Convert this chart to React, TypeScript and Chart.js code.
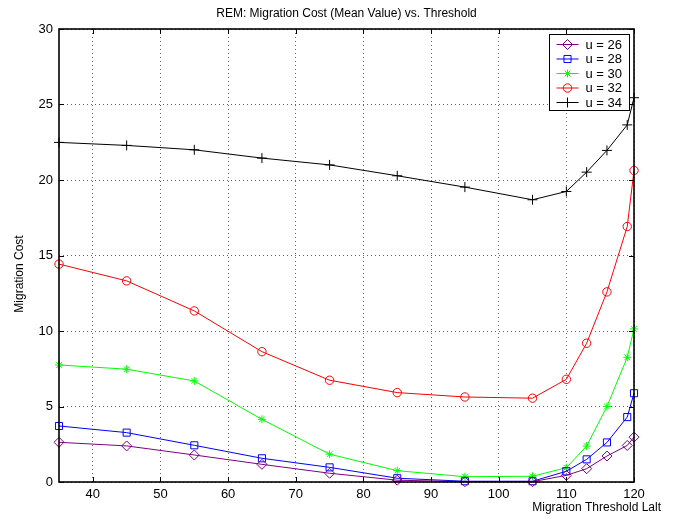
import React, { useEffect, useRef } from 'react';
import { Chart, registerables } from 'chart.js';

Chart.register(...registerables);

const FONT = '"Liberation Sans", Arial, Helvetica, sans-serif';

const titleText = 'REM: Migration Cost (Mean Value) vs. Threshold';
const xAxisLabel = 'Migration Threshold Lalt';
const yAxisLabel = 'Migration Cost';

const thresholds = [35, 45, 55, 65, 75, 85, 95, 105, 110, 113, 116, 119, 120];
const xTicks = [40, 50, 60, 70, 80, 90, 100, 110, 120];
const yTicks = [0, 5, 10, 15, 20, 25, 30];

const seriesLabels = ['u = 26', 'u = 28', 'u = 30', 'u = 32', 'u = 34'];
const u26 = [2.63, 2.39, 1.79, 1.17, 0.58, 0.12, 0.02, 0.02, 0.44, 0.88, 1.72, 2.42, 2.97];
const u28 = [3.71, 3.27, 2.43, 1.57, 0.97, 0.25, 0.05, 0.05, 0.71, 1.5, 2.62, 4.3, 5.88];
const u30 = [7.75, 7.47, 6.69, 4.15, 1.84, 0.75, 0.35, 0.38, 0.95, 2.38, 5.0, 8.26, 10.14];
const u32 = [14.43, 13.32, 11.33, 8.63, 6.74, 5.92, 5.63, 5.55, 6.8, 9.19, 12.59, 16.92, 20.63];
const u34 = [22.49, 22.29, 22.0, 21.45, 21.0, 20.28, 19.53, 18.69, 19.24, 20.52, 21.96, 23.65, 25.45];

const seriesData = [u26, u28, u30, u32, u34];
const seriesColors = ['#800080', '#0000ff', '#00ff00', '#ff0000', '#000000'];
const seriesMarkers = ['rectRot', 'rect', 'star', 'circle', 'cross'];
const seriesRadius = [5, 5, 4, 4.2, 5];

function drawMarker(ctx: CanvasRenderingContext2D, style: string, x: number, y: number, r: number, color: string) {
  ctx.save();
  ctx.strokeStyle = color;
  ctx.lineWidth = 1;
  ctx.beginPath();
  if (style === 'circle') {
    ctx.arc(x, y, r, 0, Math.PI * 2);
  } else if (style === 'rect') {
    const s = r / Math.SQRT2;
    ctx.rect(x - s, y - s, 2 * s, 2 * s);
  } else if (style === 'rectRot') {
    ctx.moveTo(x, y - r);
    ctx.lineTo(x + r, y);
    ctx.lineTo(x, y + r);
    ctx.lineTo(x - r, y);
    ctx.closePath();
  } else if (style === 'cross') {
    ctx.moveTo(x - r, y);
    ctx.lineTo(x + r, y);
    ctx.moveTo(x, y - r);
    ctx.lineTo(x, y + r);
  } else if (style === 'star') {
    ctx.moveTo(x - r, y);
    ctx.lineTo(x + r, y);
    ctx.moveTo(x, y - r);
    ctx.lineTo(x, y + r);
    const d = r * Math.SQRT1_2;
    ctx.moveTo(x - d, y - d);
    ctx.lineTo(x + d, y + d);
    ctx.moveTo(x - d, y + d);
    ctx.lineTo(x + d, y - d);
  }
  ctx.stroke();
  ctx.restore();
}

export default function App() {
  const ref = useRef<HTMLCanvasElement>(null);

  useEffect(() => {
    const canvas = ref.current;
    if (!canvas) return;

    const datasets = seriesData.map((vals, i) => ({
      label: seriesLabels[i],
      data: vals.map((y, j) => ({ x: thresholds[j], y })),
      borderColor: seriesColors[i],
      backgroundColor: 'transparent',
      pointBorderColor: seriesColors[i],
      pointBackgroundColor: 'transparent',
      pointStyle: seriesMarkers[i] as any,
      pointRadius: seriesRadius[i],
      pointBorderWidth: 1,
      borderWidth: 1,
      tension: 0,
      clip: false as any,
    }));

    const framePlugin = {
      id: 'matlabFrame',
      afterDatasetsDraw(chart: any) {
        const { ctx, chartArea: a, scales } = chart;
        ctx.save();
        ctx.strokeStyle = '#000';
        ctx.lineWidth = 1;
        ctx.beginPath();
        xTicks.forEach((v) => {
          const px = Math.round(scales.x.getPixelForValue(v)) + 0.5;
          ctx.moveTo(px, a.bottom);
          ctx.lineTo(px, a.bottom - 5);
          ctx.moveTo(px, a.top);
          ctx.lineTo(px, a.top + 5);
        });
        yTicks.forEach((v) => {
          const py = Math.round(scales.y.getPixelForValue(v)) + 0.5;
          ctx.moveTo(a.left, py);
          ctx.lineTo(a.left + 5, py);
          ctx.moveTo(a.right, py);
          ctx.lineTo(a.right - 5, py);
        });
        ctx.stroke();
        ctx.lineWidth = 1.6;
        ctx.strokeRect(a.left, a.top, a.right - a.left, a.bottom - a.top);

        // legend
        const lw = 80;
        const lh = 76;
        const lx = Math.round(a.right - 5 - lw) + 0.5;
        const ly = Math.round(a.top + 5) + 0.5;
        ctx.fillStyle = '#fff';
        ctx.fillRect(lx, ly, lw, lh);
        ctx.lineWidth = 1;
        ctx.strokeStyle = '#000';
        ctx.strokeRect(lx, ly, lw, lh);
        ctx.font = `13px ${FONT}`;
        ctx.textBaseline = 'middle';
        ctx.textAlign = 'left';
        seriesLabels.forEach((lab, i) => {
          const cy = ly + 10 + i * 14.5;
          ctx.strokeStyle = seriesColors[i];
          ctx.lineWidth = 1;
          ctx.beginPath();
          ctx.moveTo(lx + 7, cy);
          ctx.lineTo(lx + 29, cy);
          ctx.stroke();
          drawMarker(ctx, seriesMarkers[i], lx + 18, cy, seriesRadius[i], seriesColors[i]);
          ctx.fillStyle = '#000';
          ctx.fillText(lab, lx + 36, cy + 0.5);
        });

        // title and axis labels
        ctx.fillStyle = '#000';
        ctx.font = `12px ${FONT}`;
        ctx.textAlign = 'center';
        ctx.textBaseline = 'middle';
        ctx.fillText(titleText, (a.left + a.right) / 2, 14);
        ctx.textAlign = 'right';
        ctx.fillText(xAxisLabel, 661, 508);
        ctx.save();
        ctx.translate(20, 274);
        ctx.rotate(-Math.PI / 2);
        ctx.textAlign = 'center';
        ctx.fillText(yAxisLabel, 0, 0);
        ctx.restore();
        ctx.restore();
      },
    };

    const chart = new Chart(canvas, {
      type: 'line',
      data: { datasets: datasets as any },
      options: {
        animation: false,
        responsive: false,
        devicePixelRatio: 1,
        layout: { padding: { left: 0, top: 29, right: 42, bottom: 0 } },
        plugins: {
          legend: { display: false },
          title: { display: false },
          tooltip: { enabled: false },
        },
        scales: {
          x: {
            type: 'linear',
            min: 35,
            max: 120,
            afterBuildTicks: (scale: any) => {
              scale.ticks = xTicks.map((v) => ({ value: v }));
            },
            afterFit: (scale: any) => {
              scale.height = 37;
            },
            grid: { color: 'rgba(0,0,0,0.6)', lineWidth: 1, drawTicks: false },
            border: { display: false, dash: [1, 3] },
            ticks: {
              padding: 5,
              color: '#000',
              font: { family: FONT, size: 13 },
              maxRotation: 0,
              autoSkip: false,
            },
          },
          y: {
            type: 'linear',
            min: 0,
            max: 30,
            afterBuildTicks: (scale: any) => {
              scale.ticks = yTicks.map((v) => ({ value: v }));
            },
            afterFit: (scale: any) => {
              scale.width = 59;
            },
            grid: { color: 'rgba(0,0,0,0.6)', lineWidth: 1, drawTicks: false },
            border: { display: false, dash: [1, 3] },
            ticks: {
              padding: 6,
              color: '#000',
              font: { family: FONT, size: 13 },
              autoSkip: false,
            },
          },
        },
      },
      plugins: [framePlugin],
    });

    return () => chart.destroy();
  }, []);

  return (
    <div style={{ position: 'absolute', left: 0, top: 0, width: 676, height: 519, background: '#fff' }}>
      <canvas ref={ref} width={676} height={519} style={{ display: 'block', width: 676, height: 519 }} />
    </div>
  );
}
